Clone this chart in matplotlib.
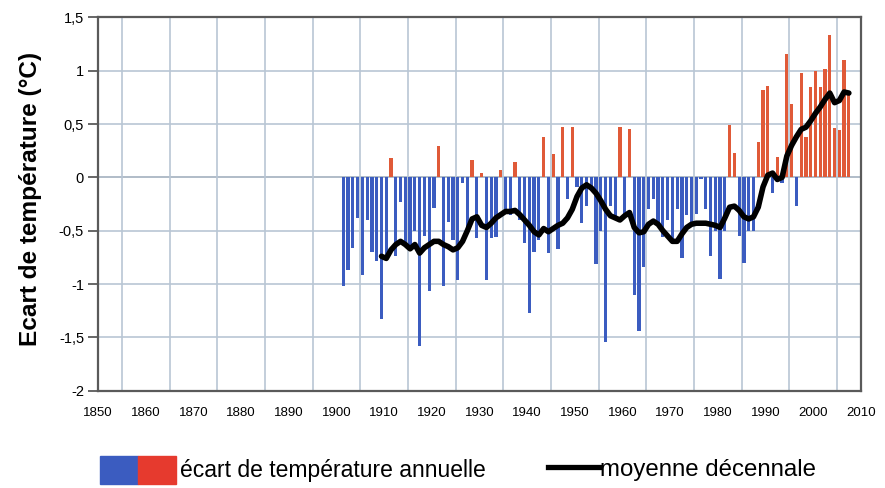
import numpy as np
import matplotlib
matplotlib.use("Agg")
import matplotlib.pyplot as plt
from matplotlib.patches import Rectangle
from matplotlib.lines import Line2D

plt.rcParams['font.family'] = ['Liberation Sans', 'DejaVu Sans']

# ---- data ----
bar_years = list(range(1901, 2008))
bar_values = [
    -1.02, -0.87, -0.66, -0.38, -0.92, -0.40, -0.70, -0.78, -1.33, -0.75,   # 1901-1910
    0.18, -0.74, -0.23, -0.62, -0.68, -0.50, -1.58, -0.55, -1.07, -0.29,    # 1911-1920
    0.29, -1.02, -0.42, -0.59, -0.96, -0.05, -0.48, 0.16, -0.57, 0.04,      # 1921-1930
    -0.96, -0.57, -0.56, 0.07, -0.30, -0.35, 0.14, -0.40, -0.62, -1.27,     # 1931-1940
    -0.70, -0.59, 0.38, -0.71, 0.22, -0.67, 0.47, -0.20, 0.47, -0.09,       # 1941-1950
    -0.43, -0.27, -0.10, -0.81, -0.50, -1.54, -0.27, -0.40, 0.47, -0.34,    # 1951-1960
    0.45, -1.10, -1.44, -0.84, -0.30, -0.20, -0.45, -0.56, -0.40, -0.60,    # 1961-1970
    -0.30, -0.76, -0.35, -0.45, -0.34, -0.02, -0.30, -0.74, -0.50, -0.95,   # 1971-1980
    -0.50, 0.49, 0.23, -0.55, -0.80, -0.50, -0.50, 0.33, 0.82, 0.86,        # 1981-1990
    -0.15, 0.19, -0.05, 1.16, 0.69, -0.27, 0.98, 0.38, 0.85, 1.00,          # 1991-2000
    0.85, 1.02, 1.33, 0.46, 0.44, 1.10, 0.80,                                # 2001-2007
]

mean_years = list(range(1909, 2008))
mean_values = [
    -0.74, -0.76, -0.68, -0.63, -0.60, -0.63, -0.67, -0.63, -0.71, -0.66,   # 1909-1918
    -0.63, -0.60, -0.60, -0.63, -0.65, -0.68, -0.66, -0.60, -0.50, -0.39,   # 1919-1928
    -0.37, -0.45, -0.47, -0.43, -0.38, -0.35, -0.32, -0.32, -0.31, -0.35,   # 1929-1938
    -0.40, -0.45, -0.51, -0.54, -0.48, -0.51, -0.48, -0.45, -0.43, -0.38,   # 1939-1948
    -0.30, -0.18, -0.10, -0.07, -0.10, -0.15, -0.22, -0.30, -0.36, -0.38,   # 1949-1958
    -0.40, -0.36, -0.33, -0.47, -0.52, -0.51, -0.44, -0.41, -0.44, -0.50,   # 1959-1968
    -0.55, -0.60, -0.60, -0.53, -0.47, -0.44, -0.43, -0.43, -0.43, -0.44,   # 1969-1978
    -0.45, -0.47, -0.38, -0.28, -0.27, -0.31, -0.37, -0.39, -0.37, -0.28,   # 1979-1988
    -0.09, 0.02, 0.04, -0.02, 0.00, 0.20, 0.30, 0.38, 0.45, 0.47,           # 1989-1998
    0.53, 0.60, 0.66, 0.73, 0.79, 0.70, 0.72, 0.80, 0.79,                   # 1999-2007
]

x_ticks = list(range(1850, 2011, 10))
y_ticks = [1.5, 1, 0.5, 0, -0.5, -1, -1.5, -2]
y_tick_labels = ["1,5", "1", "0,5", "0", "-0,5", "-1", "-1,5", "-2"]

# ---- style ----
BLUE = "#3b5cc0"
RED = "#e05a38"
GRID = "#b9c6d4"
SPINE = "#5a5a5a"
OFFSET = 0.45

fig = plt.figure(figsize=(8.85, 4.88), dpi=100)
ax = fig.add_axes([0.1107, 0.1994, 0.8622, 0.7651])

ax.set_xlim(1850, 2010)
ax.set_ylim(-2, 1.5)

# grid
ax.set_xticks(np.arange(1850, 2011, 5), minor=True)
ax.grid(True, which='minor', axis='x', color=GRID, lw=1.2, zorder=0)
ax.set_yticks(y_ticks)
ax.set_yticklabels(y_tick_labels, fontsize=10.5)
ax.grid(True, which='major', axis='y', color=GRID, lw=1.2, zorder=0)
ax.axhline(0, color="#8a8a8a", lw=1.3, zorder=1)

bx = np.array(bar_years) + OFFSET
bv = np.array(bar_values)
colors = [RED if v > 0 else BLUE for v in bv]
ax.bar(bx, bv, width=0.68, color=colors, zorder=2, linewidth=0)

ax.plot(np.array(mean_years) + OFFSET, mean_values, color="black", lw=4.0,
        solid_joinstyle='round', solid_capstyle='round', zorder=3)

ax.set_xticks(x_ticks)
ax.set_xticklabels([str(t) for t in x_ticks], fontsize=9.5)
ax.tick_params(axis='x', which='both', length=0, pad=12)
ax.tick_params(axis='y', which='major', length=7, width=1.3, color=SPINE, pad=3)
ax.tick_params(axis='y', which='minor', length=0)
for s in ax.spines.values():
    s.set_color(SPINE)
    s.set_linewidth(1.6)

fig.text(0.034, 1 - 199 / 488, "Ecart de température (°C)", rotation=90, fontsize=17.6,
         fontweight='bold', ha='center', va='center')

# legend (manual)
fig.patches.append(Rectangle((100 / 885, 1 - 484 / 488), 38 / 885, 28 / 488,
                             transform=fig.transFigure, color=BLUE))
fig.patches.append(Rectangle((138 / 885, 1 - 484 / 488), 38 / 885, 28 / 488,
                             transform=fig.transFigure, color="#e63a2e"))
fig.text(180 / 885, 1 - 470 / 488, "écart de température annuelle", fontsize=16.5,
         va='center', ha='left')
fig.lines.append(Line2D([548 / 885, 599 / 885], [1 - 467 / 488, 1 - 467 / 488],
                        transform=fig.transFigure, color='black', lw=3.8))
fig.text(600 / 885, 1 - 470 / 488, "moyenne décennale", fontsize=17.3,
         va='center', ha='left')

fig.savefig("out.png", dpi=100)
